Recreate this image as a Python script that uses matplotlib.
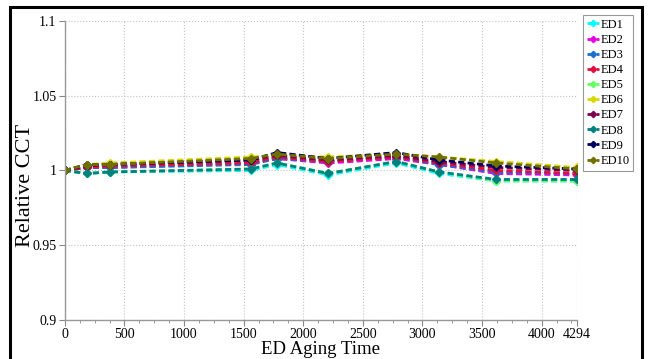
import numpy as np
import matplotlib.pyplot as plt
from matplotlib.patches import Rectangle
from matplotlib.ticker import AutoMinorLocator

plt.rcParams['font.family'] = ['Liberation Serif', 'DejaVu Serif']

# --- data ---
aging_time = [0, 184, 377, 1560, 1780, 2210, 2780, 3140, 3620, 4294]
series_names = ['ED1', 'ED2', 'ED3', 'ED4', 'ED5', 'ED6', 'ED7', 'ED8', 'ED9', 'ED10']
ed1 = [1, 0.998, 0.999, 1.000, 1.004, 0.997, 1.005, 0.998, 0.993, 0.993]
ed2 = [1, 1.002, 1.002, 1.005, 1.008, 1.005, 1.008, 1.004, 0.998, 0.997]
ed3 = [1, 1.002, 1.002, 1.004, 1.008, 1.006, 1.009, 1.004, 0.999, 0.998]
ed4 = [1, 1.002, 1.003, 1.005, 1.009, 1.006, 1.009, 1.005, 1.000, 0.998]
ed5 = [1, 0.998, 0.999, 1.001, 1.005, 0.998, 1.006, 0.999, 0.993, 0.993]
ed6 = [1, 1.004, 1.005, 1.009, 1.010, 1.009, 1.011, 1.009, 1.006, 1.002]
ed7 = [1, 1.003, 1.004, 1.007, 1.010, 1.007, 1.010, 1.006, 1.002, 1.000]
ed8 = [1, 0.998, 0.999, 1.001, 1.005, 0.998, 1.006, 0.999, 0.994, 0.994]
ed9 = [1, 1.004, 1.004, 1.007, 1.012, 1.008, 1.012, 1.007, 1.003, 1.001]
ed10 = [1, 1.004, 1.004, 1.008, 1.011, 1.008, 1.011, 1.009, 1.005, 1.001]
all_series = [ed1, ed2, ed3, ed4, ed5, ed6, ed7, ed8, ed9, ed10]
colors = ['#00ffff', '#e600e6', '#1a6fd0', '#e0103c', '#66ff66',
          '#d8d800', '#800050', '#008080', '#000060', '#707000']

x_ticks = [0, 500, 1000, 1500, 2000, 2500, 3000, 3500, 4000, 4294]
y_ticks = [0.9, 0.95, 1, 1.05, 1.1]
y_labels = ['0.9', '0.95', '1', '1.05', '1.1']

fig = plt.figure(figsize=(6.48, 3.59), dpi=100)
ax = fig.add_axes([0.100, 0.1086, 0.790, 0.833])

for name, vals, c in zip(series_names, all_series, colors):
    ax.plot(aging_time, vals, ls=(0, (2.2, 1.2)), lw=2.0, color=c,
            marker='D', ms=4, mec=c, mfc=c, label=name)

ax.set_xlim(0, 4294)
ax.set_ylim(0.9, 1.1)
ax.set_xticks(x_ticks)
ax.set_yticks(y_ticks)
ax.set_yticklabels(y_labels)
ax.xaxis.set_minor_locator(AutoMinorLocator(4))
ax.tick_params(labelsize=10, length=4, color='#888888', pad=2)
ax.tick_params(which='minor', length=2, color='#888888')
ax.tick_params(axis='x', which='both', direction='out')
ax.tick_params(axis='y', which='both', right=False)

for s in ['top', 'right']:
    ax.spines[s].set_visible(False)
for s in ['left', 'bottom']:
    ax.spines[s].set_color('#999999')
    ax.spines[s].set_linewidth(1.0)

ax.grid(True, ls=':', color='#c4c4c4', lw=0.8)
ax.set_axisbelow(True)

ax.set_xlabel('ED Aging Time', fontsize=13.5, labelpad=0)
ax.set_ylabel('Relative CCT', fontsize=16)
ax.yaxis.set_label_coords(-0.059, 0.45)

leg = ax.legend(loc='upper left', bbox_to_anchor=(583 / 648, 1 - 15 / 359),
                bbox_transform=fig.transFigure, fontsize=9, handlelength=1.0,
                handletextpad=0.1, labelspacing=0.25, borderpad=0.3,
                borderaxespad=0, fancybox=False, framealpha=1, markerscale=0.8)
leg.get_frame().set_edgecolor('#999999')
leg.get_frame().set_linewidth(0.8)

# black frame around the figure
fig.patches.append(Rectangle((10 / 648, -0.05), 632 / 648, 1 - 7 / 359 + 0.05,
                             transform=fig.transFigure, fill=False,
                             edgecolor='black', lw=2.2))

fig.savefig('out.png', dpi=100)
